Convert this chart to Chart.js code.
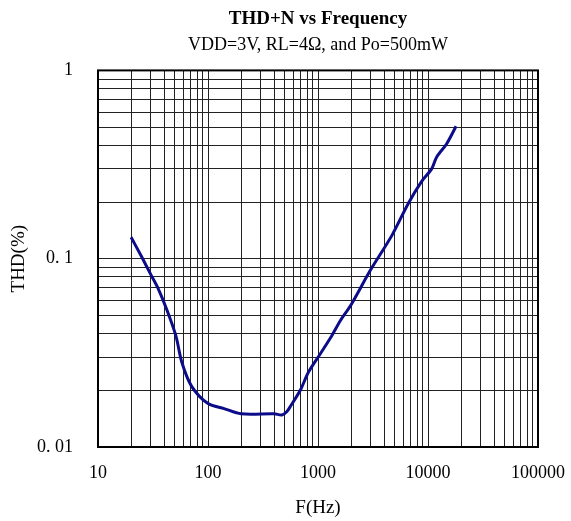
<!DOCTYPE html>
<html>
<head>
<meta charset="utf-8">
<script src="https://cdn.jsdelivr.net/npm/chart.js@4"></script>
<style>
  html, body { margin: 0; padding: 0; background: #fff; }
  #wrap { width: 571px; height: 521px; }
</style>
</head>
<body>
<div id="wrap"><canvas id="thdChart" width="571" height="521"></canvas></div>
<script>
// frequency (Hz) and THD+N (%)
const freqHz = [20, 25, 30, 35, 42, 51, 58, 71, 100, 140, 200, 400, 470, 520, 560, 690, 820, 1040, 1300, 1600, 2000, 3000, 4700, 6600, 8700, 10800, 12000, 14800, 18000];
const thdPct = [0.13, 0.102, 0.083, 0.07, 0.054, 0.039, 0.028, 0.021, 0.017, 0.016, 0.015, 0.015, 0.0148, 0.0154, 0.0164, 0.020, 0.025, 0.031, 0.038, 0.047, 0.057, 0.087, 0.133, 0.196, 0.256, 0.30, 0.347, 0.408, 0.505];

const xDecades = [10, 100, 1000, 10000, 100000];
const yDecades = [0.01, 0.1, 1];
const xTickLabels = ['10', '100', '1000', '10000', '100000'];
const yTickLabels = ['0. 01', '0. 1', '1'];

// 1..9 ticks in every decade so the grid looks like log paper
function logTicks(decades) {
    const ticks = [];
    for (let i = 0; i < decades.length; i++) {
        if (i === decades.length - 1) { ticks.push({ value: decades[i] }); break; }
        for (let m = 1; m < 10; m++) {
            ticks.push({ value: Number((m * decades[i]).toPrecision(3)) });
        }
    }
    return ticks;
}

function labelFor(value, decades, labels) {
    for (let i = 0; i < decades.length; i++) {
        if (Math.abs(value - decades[i]) / decades[i] < 1e-6) return labels[i];
    }
    return '';
}

// outer frame of the plot
const frame = {
    id: 'frame',
    afterDraw(chart) {
        const a = chart.chartArea;
        const ctx = chart.ctx;
        ctx.save();
        ctx.strokeStyle = '#000';
        ctx.lineWidth = 2;
        ctx.strokeRect(a.left, a.top, a.right - a.left, a.bottom - a.top);
        ctx.restore();
    }
};

const ctx = document.getElementById('thdChart').getContext('2d');
new Chart(ctx, {
    type: 'line',
    data: {
        datasets: [{
            data: freqHz.map((f, i) => ({ x: f, y: thdPct[i] })),
            borderColor: '#0c0c8a',
            borderWidth: 3,
            pointRadius: 0,
            tension: 0.3,
            fill: false
        }]
    },
    plugins: [frame],
    options: {
        responsive: false,
        animation: false,
        layout: { padding: { top: 0, left: 0, right: 0, bottom: 0 } },
        plugins: {
            legend: { display: false },
            tooltip: { enabled: false },
            title: {
                display: true,
                fullSize: false,
                text: 'THD+N vs Frequency',
                color: '#000',
                font: { family: 'Liberation Serif', size: 19, weight: 'bold' },
                padding: { top: 8, bottom: 3 }
            },
            subtitle: {
                display: true,
                fullSize: false,
                text: 'VDD=3V, RL=4Ω, and Po=500mW',
                color: '#000',
                font: { family: 'Liberation Serif', size: 18 },
                padding: { top: 1, bottom: 14 }
            }
        },
        scales: {
            x: {
                type: 'logarithmic',
                min: 10,
                max: 100000,
                afterBuildTicks: s => { s.ticks = logTicks(xDecades); },
                afterFit: s => { s.height = 74; s.paddingLeft = 0; s.paddingRight = 33; },
                grid: { color: '#222', lineWidth: 1, drawTicks: false },
                border: { display: false },
                ticks: {
                    autoSkip: false,
                    maxRotation: 0,
                    padding: 15,
                    color: '#000',
                    font: { family: 'Liberation Serif', size: 18 },
                    callback: v => labelFor(v, xDecades, xTickLabels)
                },
                title: {
                    display: true,
                    text: 'F(Hz)',
                    color: '#000',
                    font: { family: 'Liberation Serif', size: 19 },
                    padding: { top: 0, bottom: 2 }
                }
            },
            y: {
                type: 'logarithmic',
                min: 0.01,
                max: 1,
                afterBuildTicks: s => { s.ticks = logTicks(yDecades); },
                afterFit: s => { s.width = 98; },
                grid: { color: '#222', lineWidth: 1, drawTicks: false },
                border: { display: false },
                ticks: {
                    autoSkip: false,
                    padding: 25,
                    color: '#000',
                    font: { family: 'Liberation Serif', size: 18 },
                    callback: v => labelFor(v, yDecades, yTickLabels)
                },
                title: {
                    display: true,
                    text: 'THD(%)',
                    color: '#000',
                    font: { family: 'Liberation Serif', size: 19 },
                    padding: { top: 8, bottom: 0 }
                }
            }
        }
    }
});
</script>
</body>
</html>
